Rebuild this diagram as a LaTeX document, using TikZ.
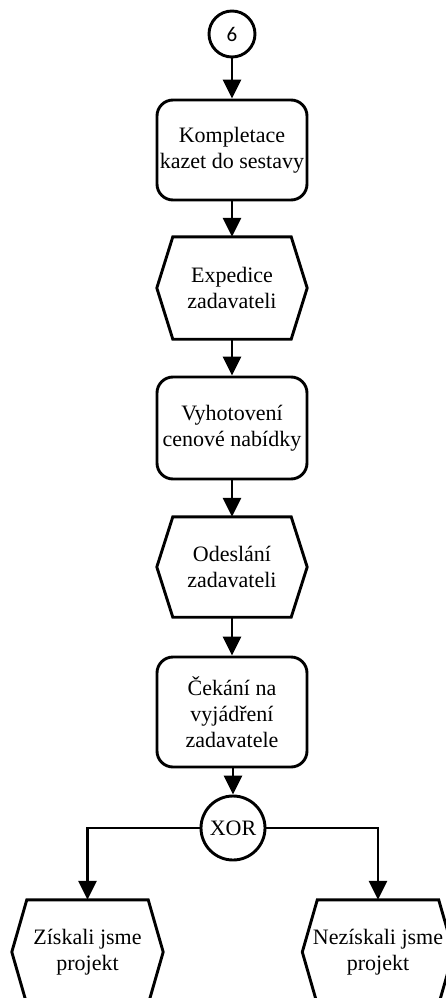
\documentclass[tikz,border=0pt]{standalone}
\usepackage{fontspec}
\newfontfamily\labelface{Liberation Serif}
\newfontfamily\numfont{Carlito}
\usetikzlibrary{arrows.meta,calc}
\tikzset{
  lw/.style={line width=2.9pt},
  flow/.style={lw,-{Triangle[width=18pt,length=19pt]}},
  txt/.style={align=center,font=\labelface\fontsize{22}{26}\selectfont},
  stepbox/.style={txt,lw,draw,rounded corners=16pt,minimum width=150pt,inner sep=0pt},
  evbox/.style={txt,inner sep=0pt,minimum width=150pt},
  ring/.style={lw,draw,circle,inner sep=0pt},
}
% hexagonal event outline around a node
\newcommand{\hexout}[2]{%
  \draw[lw,line join=miter] ($(#1.north west)+(#2,0)$) -- ($(#1.north east)+(-#2,0)$)
    -- (#1.east) -- ($(#1.south east)+(-#2,0)$) -- ($(#1.south west)+(#2,0)$)
    -- (#1.west) -- cycle;}
\begin{document}
\begin{tikzpicture}[x=1pt,y=-1pt]
\useasboundingbox (0,0) rectangle (446,998);

\node[ring,minimum size=46pt,font=\numfont\fontsize{21}{24}\selectfont] (c6) at (232,34) {6};
\node[stepbox,minimum height=100pt] (s1) at (232,150) {Kompletace\\kazet do sestavy};
\node[evbox,minimum height=102pt] (e1) at (232,288) {Expedice\\zadavateli};
\node[stepbox,minimum height=102pt] (s2) at (232,428) {Vyhotovení\\cenové nabídky};
\node[evbox,minimum height=100pt] (e2) at (232,567) {Odeslání\\zadavateli};
\node[stepbox,minimum height=110pt] (s3) at (232,712) {Čekání na\\vyjádření\\zadavatele};
\node[ring,minimum size=64pt,txt] (xor) at (233,828) {XOR};
\node[evbox,minimum width=151pt,minimum height=104pt] (e3) at (87.5,952) {Získali jsme\\projekt};
\node[evbox,minimum width=151pt,minimum height=104pt] (e4) at (378,952) {Nezískali jsme\\projekt};

\hexout{e1}{16}
\hexout{e2}{16}
\hexout{e3}{15}
\hexout{e4}{15}

\draw[flow] (c6) -- (s1);
\draw[flow] (s1) -- (e1);
\draw[flow] (e1) -- (s2);
\draw[flow] (s2) -- (e2);
\draw[flow] (e2) -- (s3);
\draw[flow] (s3.south -| xor) -- (xor);
\draw[flow] (xor.west) -| (e3.north);
\draw[flow] (xor.east) -| (e4.north);
\end{tikzpicture}
\end{document}
